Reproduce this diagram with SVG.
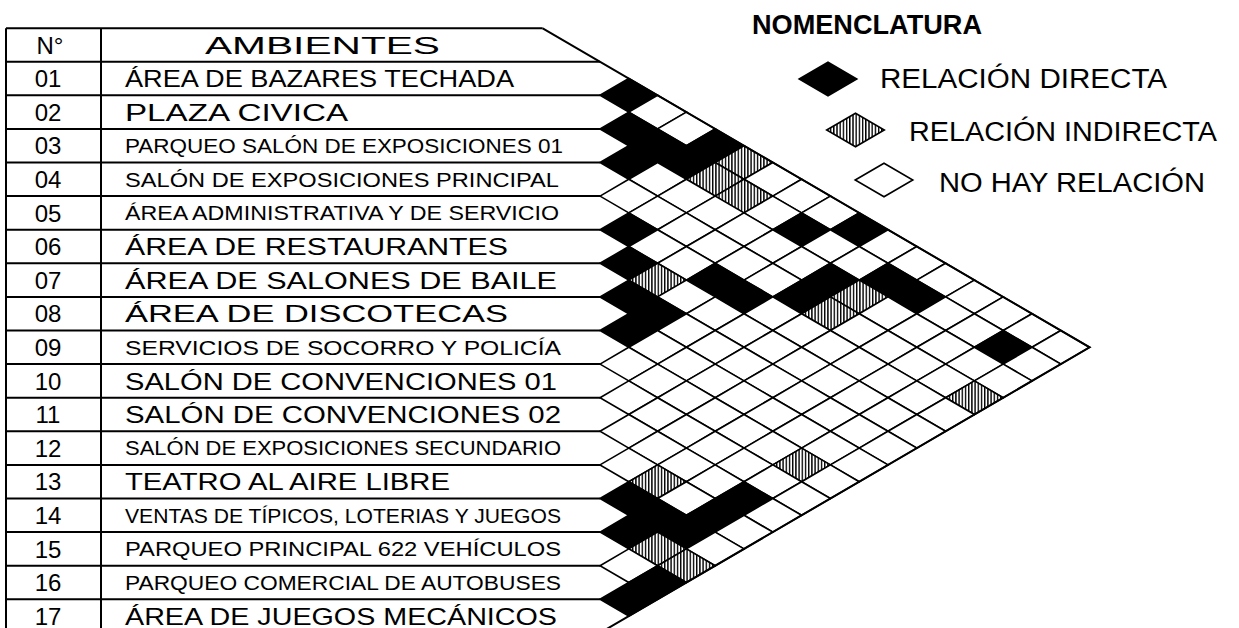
<svg xmlns="http://www.w3.org/2000/svg" width="1239" height="628" viewBox="0 0 1239 628">
<style>
.ln{stroke:#000;stroke-width:2;fill:none}
.cells use,.leg use{stroke:#000;stroke-width:1.6;stroke-linejoin:miter}
.w{fill:#fff}
.b{fill:#000}
.h{fill:url(#hatch)}
.t{font-family:"Liberation Sans",Arial,sans-serif;fill:#000}
.big{font-size:24px}
.sm{font-size:20px}
.lg{font-size:27px}
.num{text-anchor:middle;font-size:24px}
</style>
<defs>
<pattern id="hatch" patternUnits="userSpaceOnUse" width="3.2" height="8"><rect width="3.2" height="8" fill="#fff"/><rect width="1.4" height="8" fill="#000"/></pattern>
<polygon id="dm" points="-28.8,0 0,-16.8 28.8,0 0,16.8"/>
</defs>
<rect width="1239" height="628" fill="#fff"/>

<g id="table">
<path class="ln" d="M6,28.3V628M101,28.3V628M6,28.3H542.7M6,61.7H600M6,95.3H600M6,128.9H600M6,162.5H600M6,196.1H600M6,229.7H600M6,263.3H600M6,296.9H600M6,330.5H600M6,364.1H600M6,397.7H600M6,431.3H600M6,464.9H600M6,498.5H600M6,532.1H600M6,565.7H600M6,599.3H600"/>
<text class="t num" x="50" y="54" font-size="26">N°</text>
<text class="t big" x="205" y="54" textLength="235" lengthAdjust="spacingAndGlyphs">AMBIENTES</text>
</g>

<g id="rows" class="t">
<g id="r01"><text class="num" x="48" y="87.1">01</text><text class="big" x="125" y="87.1" textLength="389" lengthAdjust="spacingAndGlyphs">ÁREA DE BAZARES TECHADA</text></g>
<g id="r02"><text class="num" x="48" y="120.7">02</text><text class="big" x="125" y="120.7" textLength="223" lengthAdjust="spacingAndGlyphs">PLAZA CIVICA</text></g>
<g id="r03"><text class="num" x="48" y="154.3">03</text><text class="sm" x="125" y="152.9" textLength="438" lengthAdjust="spacingAndGlyphs">PARQUEO SALÓN DE EXPOSICIONES 01</text></g>
<g id="r04"><text class="num" x="48" y="187.9">04</text><text class="sm" x="125" y="186.5" textLength="434" lengthAdjust="spacingAndGlyphs">SALÓN DE EXPOSICIONES PRINCIPAL</text></g>
<g id="r05"><text class="num" x="48" y="221.5">05</text><text class="sm" x="125" y="220.1" textLength="434" lengthAdjust="spacingAndGlyphs">ÁREA ADMINISTRATIVA Y DE SERVICIO</text></g>
<g id="r06"><text class="num" x="48" y="255.1">06</text><text class="big" x="125" y="255.1" textLength="383" lengthAdjust="spacingAndGlyphs">ÁREA DE RESTAURANTES</text></g>
<g id="r07"><text class="num" x="48" y="288.7">07</text><text class="big" x="125" y="288.7" textLength="432" lengthAdjust="spacingAndGlyphs">ÁREA DE SALONES DE BAILE</text></g>
<g id="r08"><text class="num" x="48" y="322.3">08</text><text class="big" x="125" y="322.3" textLength="383" lengthAdjust="spacingAndGlyphs">ÁREA DE DISCOTECAS</text></g>
<g id="r09"><text class="num" x="48" y="355.9">09</text><text class="sm" x="125" y="354.5" textLength="436" lengthAdjust="spacingAndGlyphs">SERVICIOS DE SOCORRO Y POLICÍA</text></g>
<g id="r10"><text class="num" x="48" y="389.5">10</text><text class="big" x="125" y="389.5" textLength="432" lengthAdjust="spacingAndGlyphs">SALÓN DE CONVENCIONES 01</text></g>
<g id="r11"><text class="num" x="48" y="423.1">11</text><text class="big" x="125" y="423.1" textLength="436" lengthAdjust="spacingAndGlyphs">SALÓN DE CONVENCIONES 02</text></g>
<g id="r12"><text class="num" x="48" y="456.7">12</text><text class="sm" x="125" y="455.3" textLength="436" lengthAdjust="spacingAndGlyphs">SALÓN DE EXPOSICIONES SECUNDARIO</text></g>
<g id="r13"><text class="num" x="48" y="490.3">13</text><text class="big" x="125" y="490.3" textLength="325" lengthAdjust="spacingAndGlyphs">TEATRO AL AIRE LIBRE</text></g>
<g id="r14"><text class="num" x="48" y="523.9">14</text><text class="sm" x="125" y="522.5" textLength="436" lengthAdjust="spacingAndGlyphs">VENTAS DE TÍPICOS, LOTERIAS Y JUEGOS</text></g>
<g id="r15"><text class="num" x="48" y="557.5">15</text><text class="sm" x="125" y="556.1" textLength="436" lengthAdjust="spacingAndGlyphs">PARQUEO PRINCIPAL 622 VEHÍCULOS</text></g>
<g id="r16"><text class="num" x="48" y="591.1">16</text><text class="sm" x="125" y="589.7" textLength="436" lengthAdjust="spacingAndGlyphs">PARQUEO COMERCIAL DE AUTOBUSES</text></g>
<g id="r17"><text class="num" x="48" y="624.7">17</text><text class="big" x="125" y="624.7" textLength="432" lengthAdjust="spacingAndGlyphs">ÁREA DE JUEGOS MECÁNICOS</text></g>
</g>

<g id="matrix" class="cells">
<use href="#dm" class="b" x="628.8" y="95.3"/>
<use href="#dm" class="w" x="657.6" y="112.1"/>
<use href="#dm" class="w" x="686.4" y="128.9"/>
<use href="#dm" class="b" x="715.2" y="145.7"/>
<use href="#dm" class="h" x="744" y="162.5"/>
<use href="#dm" class="w" x="772.8" y="179.3"/>
<use href="#dm" class="w" x="801.6" y="196.1"/>
<use href="#dm" class="w" x="830.4" y="212.9"/>
<use href="#dm" class="b" x="859.2" y="229.7"/>
<use href="#dm" class="w" x="888" y="246.5"/>
<use href="#dm" class="w" x="916.8" y="263.3"/>
<use href="#dm" class="w" x="945.6" y="280.1"/>
<use href="#dm" class="w" x="974.4" y="296.9"/>
<use href="#dm" class="w" x="1003.2" y="313.7"/>
<use href="#dm" class="w" x="1032" y="330.5"/>
<use href="#dm" class="w" x="1060.8" y="347.3"/>

<use href="#dm" class="b" x="628.8" y="128.9"/>
<use href="#dm" class="b" x="657.6" y="145.7"/>
<use href="#dm" class="b" x="686.4" y="162.5"/>
<use href="#dm" class="h" x="715.2" y="179.3"/>
<use href="#dm" class="h" x="744" y="196.1"/>
<use href="#dm" class="w" x="772.8" y="212.9"/>
<use href="#dm" class="b" x="801.6" y="229.7"/>
<use href="#dm" class="w" x="830.4" y="246.5"/>
<use href="#dm" class="w" x="859.2" y="263.3"/>
<use href="#dm" class="b" x="888" y="280.1"/>
<use href="#dm" class="b" x="916.8" y="296.9"/>
<use href="#dm" class="w" x="945.6" y="313.7"/>
<use href="#dm" class="w" x="974.4" y="330.5"/>
<use href="#dm" class="b" x="1003.2" y="347.3"/>
<use href="#dm" class="w" x="1032" y="364.1"/>

<use href="#dm" class="b" x="628.8" y="162.5"/>
<use href="#dm" class="w" x="657.6" y="179.3"/>
<use href="#dm" class="w" x="686.4" y="196.1"/>
<use href="#dm" class="w" x="715.2" y="212.9"/>
<use href="#dm" class="w" x="744" y="229.7"/>
<use href="#dm" class="w" x="772.8" y="246.5"/>
<use href="#dm" class="w" x="801.6" y="263.3"/>
<use href="#dm" class="b" x="830.4" y="280.1"/>
<use href="#dm" class="h" x="859.2" y="296.9"/>
<use href="#dm" class="w" x="888" y="313.7"/>
<use href="#dm" class="w" x="916.8" y="330.5"/>
<use href="#dm" class="w" x="945.6" y="347.3"/>
<use href="#dm" class="w" x="974.4" y="364.1"/>
<use href="#dm" class="w" x="1003.2" y="380.9"/>

<use href="#dm" class="w" x="628.8" y="196.1"/>
<use href="#dm" class="w" x="657.6" y="212.9"/>
<use href="#dm" class="w" x="686.4" y="229.7"/>
<use href="#dm" class="w" x="715.2" y="246.5"/>
<use href="#dm" class="w" x="744" y="263.3"/>
<use href="#dm" class="w" x="772.8" y="280.1"/>
<use href="#dm" class="b" x="801.6" y="296.9"/>
<use href="#dm" class="h" x="830.4" y="313.7"/>
<use href="#dm" class="w" x="859.2" y="330.5"/>
<use href="#dm" class="w" x="888" y="347.3"/>
<use href="#dm" class="w" x="916.8" y="364.1"/>
<use href="#dm" class="w" x="945.6" y="380.9"/>
<use href="#dm" class="h" x="974.4" y="397.7"/>

<use href="#dm" class="b" x="628.8" y="229.7"/>
<use href="#dm" class="w" x="657.6" y="246.5"/>
<use href="#dm" class="w" x="686.4" y="263.3"/>
<use href="#dm" class="b" x="715.2" y="280.1"/>
<use href="#dm" class="b" x="744" y="296.9"/>
<use href="#dm" class="w" x="772.8" y="313.7"/>
<use href="#dm" class="w" x="801.6" y="330.5"/>
<use href="#dm" class="w" x="830.4" y="347.3"/>
<use href="#dm" class="w" x="859.2" y="364.1"/>
<use href="#dm" class="w" x="888" y="380.9"/>
<use href="#dm" class="w" x="916.8" y="397.7"/>
<use href="#dm" class="w" x="945.6" y="414.5"/>

<use href="#dm" class="b" x="628.8" y="263.3"/>
<use href="#dm" class="h" x="657.6" y="280.1"/>
<use href="#dm" class="w" x="686.4" y="296.9"/>
<use href="#dm" class="w" x="715.2" y="313.7"/>
<use href="#dm" class="w" x="744" y="330.5"/>
<use href="#dm" class="w" x="772.8" y="347.3"/>
<use href="#dm" class="w" x="801.6" y="364.1"/>
<use href="#dm" class="w" x="830.4" y="380.9"/>
<use href="#dm" class="w" x="859.2" y="397.7"/>
<use href="#dm" class="w" x="888" y="414.5"/>
<use href="#dm" class="w" x="916.8" y="431.3"/>

<use href="#dm" class="b" x="628.8" y="296.9"/>
<use href="#dm" class="b" x="657.6" y="313.7"/>
<use href="#dm" class="w" x="686.4" y="330.5"/>
<use href="#dm" class="w" x="715.2" y="347.3"/>
<use href="#dm" class="w" x="744" y="364.1"/>
<use href="#dm" class="w" x="772.8" y="380.9"/>
<use href="#dm" class="w" x="801.6" y="397.7"/>
<use href="#dm" class="w" x="830.4" y="414.5"/>
<use href="#dm" class="w" x="859.2" y="431.3"/>
<use href="#dm" class="w" x="888" y="448.1"/>

<use href="#dm" class="b" x="628.8" y="330.5"/>
<use href="#dm" class="w" x="657.6" y="347.3"/>
<use href="#dm" class="w" x="686.4" y="364.1"/>
<use href="#dm" class="w" x="715.2" y="380.9"/>
<use href="#dm" class="w" x="744" y="397.7"/>
<use href="#dm" class="w" x="772.8" y="414.5"/>
<use href="#dm" class="w" x="801.6" y="431.3"/>
<use href="#dm" class="w" x="830.4" y="448.1"/>
<use href="#dm" class="w" x="859.2" y="464.9"/>

<use href="#dm" class="w" x="628.8" y="364.1"/>
<use href="#dm" class="w" x="657.6" y="380.9"/>
<use href="#dm" class="w" x="686.4" y="397.7"/>
<use href="#dm" class="w" x="715.2" y="414.5"/>
<use href="#dm" class="w" x="744" y="431.3"/>
<use href="#dm" class="w" x="772.8" y="448.1"/>
<use href="#dm" class="h" x="801.6" y="464.9"/>
<use href="#dm" class="w" x="830.4" y="481.7"/>

<use href="#dm" class="w" x="628.8" y="397.7"/>
<use href="#dm" class="w" x="657.6" y="414.5"/>
<use href="#dm" class="w" x="686.4" y="431.3"/>
<use href="#dm" class="w" x="715.2" y="448.1"/>
<use href="#dm" class="w" x="744" y="464.9"/>
<use href="#dm" class="w" x="772.8" y="481.7"/>
<use href="#dm" class="w" x="801.6" y="498.5"/>

<use href="#dm" class="w" x="628.8" y="431.3"/>
<use href="#dm" class="w" x="657.6" y="448.1"/>
<use href="#dm" class="w" x="686.4" y="464.9"/>
<use href="#dm" class="w" x="715.2" y="481.7"/>
<use href="#dm" class="b" x="744" y="498.5"/>
<use href="#dm" class="w" x="772.8" y="515.3"/>

<use href="#dm" class="w" x="628.8" y="464.9"/>
<use href="#dm" class="h" x="657.6" y="481.7"/>
<use href="#dm" class="w" x="686.4" y="498.5"/>
<use href="#dm" class="b" x="715.2" y="515.3"/>
<use href="#dm" class="w" x="744" y="532.1"/>

<use href="#dm" class="b" x="628.8" y="498.5"/>
<use href="#dm" class="b" x="657.6" y="515.3"/>
<use href="#dm" class="b" x="686.4" y="532.1"/>
<use href="#dm" class="w" x="715.2" y="548.9"/>

<use href="#dm" class="b" x="628.8" y="532.1"/>
<use href="#dm" class="h" x="657.6" y="548.9"/>
<use href="#dm" class="h" x="686.4" y="565.7"/>

<use href="#dm" class="w" x="628.8" y="565.7"/>
<use href="#dm" class="b" x="657.6" y="582.5"/>

<use href="#dm" class="b" x="628.8" y="599.3"/>
</g>

<g id="outline">
<path class="ln" d="M542.7,28.3L1089.6,347.3L600,632.9"/>
</g>

<g id="legend" class="leg">
<text class="t" x="752" y="34" font-size="27" font-weight="bold" textLength="230" lengthAdjust="spacingAndGlyphs">NOMENCLATURA</text>
<g id="leg-directa"><use href="#dm" class="b" x="828" y="79"/><text class="t lg" x="880" y="87.5" textLength="287" lengthAdjust="spacingAndGlyphs">RELACIÓN DIRECTA</text></g>
<g id="leg-indirecta"><use href="#dm" class="h" x="855.5" y="130"/><text class="t lg" x="909" y="141" textLength="308" lengthAdjust="spacingAndGlyphs">RELACIÓN INDIRECTA</text></g>
<g id="leg-nohay"><use href="#dm" class="w" x="884" y="180"/><text class="t lg" x="939" y="191.5" textLength="266" lengthAdjust="spacingAndGlyphs">NO HAY RELACIÓN</text></g>
</g>
</svg>
